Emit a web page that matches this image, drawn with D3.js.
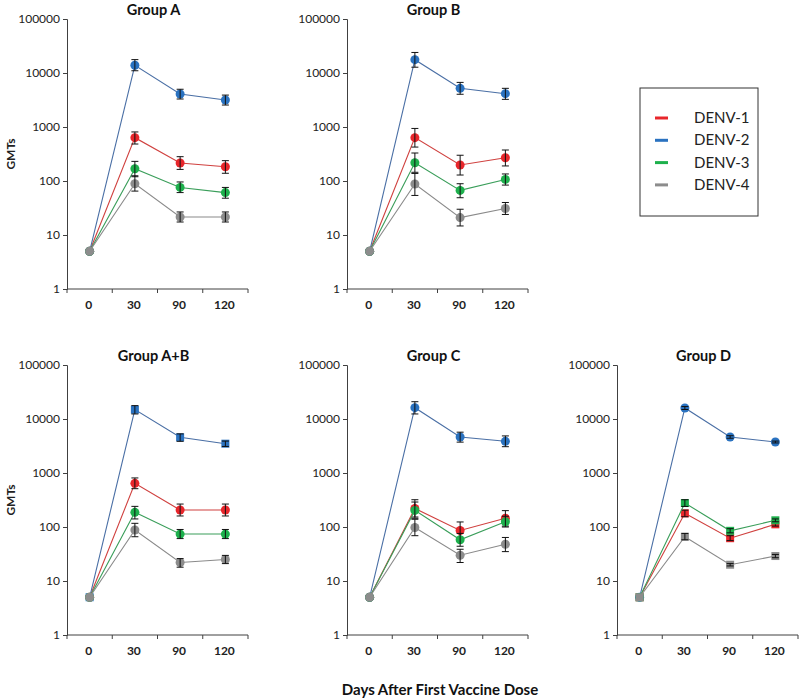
<!DOCTYPE html>
<html>
<head>
<meta charset="utf-8">
<script src="https://cdn.jsdelivr.net/npm/d3@7"></script>
<style>
  body { margin: 0; background: #fff; }
  text { font-family: Lato, "Open Sans", sans-serif; }
</style>
</head>
<body>
<div id="chart"></div>
<script>
// categories
const days = ["0", "30", "90", "120"];
const serotypes = ["DENV-1", "DENV-2", "DENV-3", "DENV-4"];
const markerColors = ["#e8262b", "#2a72c0", "#1db04c", "#8c8c8c"];
const lineColors = ["#d0413f", "#4a6fa5", "#3a9e5a", "#8a8a8a"];
const yTicks = [1, 10, 100, 1000, 10000, 100000];

// GMT values, one row per serotype (DENV-1..4), one column per day
const gmtA  = [[5, 635, 215, 184], [5, 13900, 4090, 3160], [5, 169, 76, 61], [5, 89, 21.5, 21.5]];
const lowA  = [[null, 484, 164, 139], [null, 11000, 3300, 2550], [null, 120, 61, 48], [null, 65, 17.4, 17.4]];
const highA = [[null, 810, 282, 238], [null, 17700, 5000, 3900], [null, 231, 96, 76], [null, 125, 26.7, 26.7]];

const gmtB  = [[5, 635, 198, 270], [5, 17650, 5200, 4140], [5, 218, 67, 107], [5, 88, 21, 31]];
const lowB  = [[null, 425, 129, 190], [null, 12800, 4040, 3250], [null, 145, 49, 84], [null, 54, 14.7, 24]];
const highB = [[null, 940, 300, 375], [null, 24000, 6700, 5200], [null, 330, 89, 135], [null, 138, 30, 40]];

const gmtAB  = [[5, 644, 206, 206], [5, 14900, 4580, 3490], [5, 187, 74, 74], [5, 88, 22, 25]];
const lowAB  = [[null, 512, 160, 160], [null, 12400, 3860, 3100], [null, 141, 61, 61], [null, 66, 18, 21]];
const highAB = [[null, 810, 266, 266], [null, 17700, 5300, 3900], [null, 241, 90, 90], [null, 117, 26, 29.8]];

const gmtC  = [[5, 221, 86, 145], [5, 16200, 4640, 3860], [5, 203, 58, 125], [5, 98, 30, 48]];
const lowC  = [[null, 153, 59, 104], [null, 12400, 3730, 3070], [null, 145, 44, 100], [null, 69, 22, 35]];
const highC = [[null, 320, 124, 201], [null, 20900, 5700, 4860], [null, 290, 76, 158], [null, 139, 38.7, 64]];

const gmtD  = [[5, 179, 62, 112], [5, 16000, 4640, 3750], [5, 278, 85, 133], [5, 66, 20, 29]];
const lowD  = [[null, 155, 56, 104], [null, 15000, 4400, 3600], [null, 240, 78, 125], [null, 58, 19, 27]];
const highD = [[null, 205, 69, 121], [null, 17000, 4900, 3900], [null, 320, 93, 141], [null, 76, 21, 31]];

const groupNames = ["Group A", "Group B", "Group A+B", "Group C", "Group D"];

const width = 800;
const height = 699;

const svg = d3.select('#chart')
    .append('svg')
    .attr('width', width)
    .attr('height', height);

// panel frames
const panels = [
  { name: groupNames[0], left: 67,  top: 19,  gmt: gmtA,  low: lowA,  high: highA,  squares: [] , yLabel: true },
  { name: groupNames[1], left: 347, top: 19,  gmt: gmtB,  low: lowB,  high: highB,  squares: [] , yLabel: false },
  { name: groupNames[2], left: 67,  top: 365, gmt: gmtAB, low: lowAB, high: highAB, squares: [1], yLabel: true },
  { name: groupNames[3], left: 347, top: 365, gmt: gmtC,  low: lowC,  high: highC,  squares: [] , yLabel: false },
  { name: groupNames[4], left: 617, top: 365, gmt: gmtD,  low: lowD,  high: highD,  squares: [0, 2, 3], yLabel: false }
];

const pw = 181;
const ph = 270;

panels.forEach(function(p) {
  const g = svg.append('g').attr('transform', 'translate(' + p.left + ',' + p.top + ')');

  const x = d3.scaleBand().domain(days).range([0, pw]);
  const y = d3.scaleLog().domain([1, 100000]).range([ph, 0]);

  // y axis
  const yAxis = g.append('g')
      .call(d3.axisLeft(y).tickValues(yTicks).tickFormat(d3.format('d')).tickSize(4).tickPadding(3));
  yAxis.select('.domain').attr('stroke', '#404040');
  yAxis.selectAll('.tick line').attr('stroke', '#404040');
  yAxis.selectAll('text').attr('font-size', 12).attr('fill', '#222');

  // x axis: ticks at band edges, labels at centres
  const xAxis = g.append('g').attr('transform', 'translate(0,' + ph + ')');
  xAxis.append('line').attr('x1', 0).attr('x2', pw).attr('stroke', '#404040');
  const edges = days.map(d => x(d)).concat([pw]);
  xAxis.selectAll('line.tk').data(edges).enter().append('line')
      .attr('class', 'tk')
      .attr('x1', d => d).attr('x2', d => d)
      .attr('y1', 0).attr('y2', 4)
      .attr('stroke', '#404040');
  xAxis.selectAll('text').data(days).enter().append('text')
      .attr('x', d => x(d) + x.bandwidth() / 2 - 1)
      .attr('y', 20)
      .attr('text-anchor', 'middle')
      .attr('font-size', 12)
      .attr('font-weight', 'bold')
      .attr('fill', '#222')
      .text(d => d);

  // title
  g.append('text')
      .attr('x', pw / 2 - 4)
      .attr('y', -4.5)
      .attr('text-anchor', 'middle')
      .attr('font-size', 14.5)
      .attr('font-weight', 'bold')
      .attr('fill', '#111')
      .text(p.name);

  if (p.yLabel) {
    g.append('text')
        .attr('transform', 'translate(' + (15 - p.left) + ',' + (ph / 2) + ') rotate(-90)')
        .attr('text-anchor', 'middle')
        .attr('font-size', 12)
        .attr('font-weight', 'bold')
        .attr('fill', '#222')
        .text('GMTs');
  }

  const cx = d => x(d) + x.bandwidth() / 2;

  const line = d3.line()
      .x(d => cx(d.day))
      .y(d => y(d.v));

  serotypes.forEach(function(s, i) {
    const pts = days.map((d, j) => ({ day: d, v: p.gmt[i][j], lo: p.low[i][j], hi: p.high[i][j] }));

    g.append('path')
        .datum(pts)
        .attr('d', line)
        .attr('fill', 'none')
        .attr('stroke', lineColors[i])
        .attr('stroke-width', 1.1);

    if (p.squares.indexOf(i) >= 0) {
      g.selectAll('rect.m' + i).data(pts).enter().append('rect')
          .attr('class', 'm' + i)
          .attr('x', d => cx(d.day) - 4)
          .attr('y', d => y(d.v) - 4)
          .attr('width', 8).attr('height', 8)
          .attr('fill', markerColors[i]);
    } else {
      g.selectAll('circle.m' + i).data(pts).enter().append('circle')
          .attr('class', 'm' + i)
          .attr('cx', d => cx(d.day))
          .attr('cy', d => y(d.v))
          .attr('r', 4.5)
          .attr('fill', markerColors[i]);
    }

    // error bars
    const eb = pts.filter(d => d.lo != null);
    const bars = g.selectAll('g.e' + i).data(eb).enter().append('g')
        .attr('class', 'e' + i)
        .attr('stroke', '#111')
        .attr('stroke-width', 1);
    bars.append('line')
        .attr('x1', d => cx(d.day)).attr('x2', d => cx(d.day))
        .attr('y1', d => y(d.lo)).attr('y2', d => y(d.hi));
    bars.append('line')
        .attr('x1', d => cx(d.day) - 3.5).attr('x2', d => cx(d.day) + 3.5)
        .attr('y1', d => y(d.lo)).attr('y2', d => y(d.lo));
    bars.append('line')
        .attr('x1', d => cx(d.day) - 3.5).attr('x2', d => cx(d.day) + 3.5)
        .attr('y1', d => y(d.hi)).attr('y2', d => y(d.hi));
  });
});

// legend
const legend = svg.append('g').attr('transform', 'translate(640,88)');
legend.append('rect')
    .attr('width', 118).attr('height', 128)
    .attr('fill', 'none')
    .attr('stroke', '#333');
serotypes.forEach(function(s, i) {
  legend.append('line')
      .attr('x1', 15).attr('x2', 28)
      .attr('y1', 30 + i * 22.3).attr('y2', 30 + i * 22.3)
      .attr('stroke', markerColors[i])
      .attr('stroke-width', 3);
  legend.append('text')
      .attr('x', 54).attr('y', 30 + i * 22.3 + 5)
      .attr('font-size', 15)
      .attr('fill', '#222')
      .text(s);
});

// x axis title
svg.append('text')
    .attr('x', 440).attr('y', 695)
    .attr('text-anchor', 'middle')
    .attr('font-size', 15)
    .attr('font-weight', 'bold')
    .attr('fill', '#111')
    .text('Days After First Vaccine Dose');
</script>
</body>
</html>
